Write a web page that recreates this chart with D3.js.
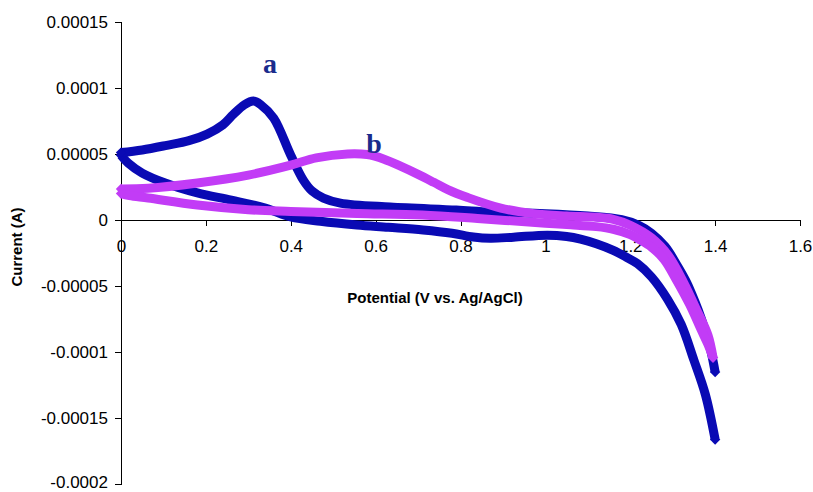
<!DOCTYPE html>
<html>
<head>
<meta charset="utf-8">
<script src="https://cdn.jsdelivr.net/npm/d3@7"></script>
<style>
  body { margin: 0; background: #fff; }
  .axis text { font-family: "Liberation Sans", Arial, sans-serif; font-size: 17px; fill: #000; }
  .axis path, .axis line { stroke: #000; stroke-width: 1px; shape-rendering: crispEdges; }
</style>
</head>
<body>
<div id="chart"></div>
<script>
// tick values
var xTicks = [0, 0.2, 0.4, 0.6, 0.8, 1, 1.2, 1.4, 1.6];
var yTicks = [0.00015, 0.0001, 0.00005, 0, -0.00005, -0.0001, -0.00015, -0.0002];

// curve a - lower branch, 0 -> 1.4 V
var aLowX = [0, 0.017, 0.05, 0.104, 0.18, 0.26, 0.34, 0.40, 0.47, 0.556, 0.63, 0.712, 0.78, 0.83, 0.87, 0.925, 1.005, 1.05, 1.083, 1.12, 1.16, 1.19, 1.217, 1.25, 1.288, 1.32, 1.35, 1.377, 1.40];
var aLowY = [4.9e-5, 4.3e-5, 3.55e-5, 2.8e-5, 2.05e-5, 1.5e-5, 0.9e-5, 0.23e-5, -0.1e-5, -0.38e-5, -0.55e-5, -0.75e-5, -1.0e-5, -1.28e-5, -1.38e-5, -1.3e-5, -1.15e-5, -1.25e-5, -1.45e-5, -1.8e-5, -2.3e-5, -2.8e-5, -3.3e-5, -4.3e-5, -6.0e-5, -7.9e-5, -10.6e-5, -13.2e-5, -16.6e-5];
// curve a - upper branch, 1.4 -> 0 V
var aUpX = [1.40, 1.39, 1.375, 1.36, 1.345, 1.331, 1.31, 1.282, 1.25, 1.22, 1.18, 1.1, 1.0, 0.87, 0.79, 0.634, 0.517, 0.477, 0.45, 0.43, 0.40, 0.36, 0.33, 0.312, 0.29, 0.265, 0.24, 0.203, 0.16, 0.108, 0.05, 0];
var aUpY = [-11.5e-5, -9.9e-5, -8.2e-5, -6.8e-5, -5.6e-5, -4.6e-5, -3.4e-5, -2.0e-5, -1.0e-5, -0.4e-5, 0.02e-5, 0.3e-5, 0.48e-5, 0.6e-5, 0.75e-5, 0.98e-5, 1.28e-5, 1.66e-5, 2.2e-5, 3.0e-5, 4.9e-5, 7.7e-5, 8.7e-5, 9.0e-5, 8.7e-5, 8.0e-5, 7.2e-5, 6.5e-5, 6.0e-5, 5.65e-5, 5.3e-5, 5.1e-5];

// curve b - upper branch, 0 -> 1.4 V
var bFwdX = [0, 0.064, 0.18, 0.3, 0.4, 0.46, 0.534, 0.58, 0.62, 0.66, 0.70, 0.737, 0.77, 0.817, 0.895, 0.973, 1.05, 1.12, 1.16, 1.2, 1.25, 1.29, 1.327, 1.355, 1.383, 1.395];
var bFwdY = [2.35e-5, 2.4e-5, 2.8e-5, 3.4e-5, 4.15e-5, 4.7e-5, 5.0e-5, 4.95e-5, 4.6e-5, 4.05e-5, 3.45e-5, 2.85e-5, 2.3e-5, 1.7e-5, 0.9e-5, 0.48e-5, 0.3e-5, 0.2e-5, 0.05e-5, -0.4e-5, -1.35e-5, -2.7e-5, -4.8e-5, -6.7e-5, -8.7e-5, -10.4e-5];
// curve b - lower branch, 1.4 -> 0 V
var bRevX = [1.395, 1.383, 1.367, 1.34, 1.308, 1.28, 1.25, 1.22, 1.2, 1.16, 1.12, 1.06, 1.0, 0.84, 0.71, 0.556, 0.4, 0.3, 0.18, 0.064, 0.02, 0];
var bRevY = [-10.4e-5, -9.4e-5, -8.3e-5, -6.4e-5, -4.5e-5, -3.0e-5, -2.05e-5, -1.45e-5, -1.1e-5, -0.7e-5, -0.5e-5, -0.36e-5, -0.25e-5, 0.12e-5, 0.38e-5, 0.5e-5, 0.65e-5, 0.78e-5, 1.13e-5, 1.66e-5, 1.85e-5, 2.0e-5];

function zipXY(xs, ys) {
    return xs.map(function (d, i) { return { x: d, y: ys[i] }; });
}

var width = 813;
var height = 492;

var svg = d3.select('#chart').append('svg')
    .attr('width', width)
    .attr('height', height);

var x = d3.scaleLinear().domain([0, 1.6]).range([121, 800]);
var y = d3.scaleLinear().domain([-0.0002, 0.00015]).range([484.4, 21.7]);

// axes
var yFmt = function (d) { return d === 0 ? '0' : d.toFixed(5).replace(/0+$/, ''); };
var yAxis = svg.append('g')
    .attr('class', 'axis')
    .attr('transform', 'translate(' + x(0) + ',0)')
    .call(d3.axisLeft(y).tickValues(yTicks).tickSize(6).tickSizeOuter(0).tickFormat(yFmt));
yAxis.selectAll('text').attr('x', -13);
// bottom label sits at the page edge, lift it a touch
yAxis.selectAll('.tick').filter(function (d) { return d === -0.0002; })
    .select('text').attr('y', -2);

var xAxis = svg.append('g')
    .attr('class', 'axis')
    .attr('transform', 'translate(0,' + y(0) + ')')
    .call(d3.axisBottom(x).tickValues(xTicks).tickSize(6).tickSizeOuter(0)
        .tickFormat(function (d) { return String(+d.toFixed(1)); }));
xAxis.selectAll('text').attr('y', 20);

var line = d3.line()
    .x(function (d) { return x(d.x); })
    .y(function (d) { return y(d.y); })
    .curve(d3.curveCatmullRom.alpha(0.5));

var series = [
    { color: '#0a0ab4', branches: [zipXY(aLowX, aLowY), zipXY(aUpX, aUpY)] },
    { color: '#c23cf6', branches: [zipXY(bFwdX, bFwdY), zipXY(bRevX, bRevY)] }
];

var diamond = d3.symbol().type(d3.symbolSquare).size(54);

series.forEach(function (s) {
    var g = svg.append('g');
    s.branches.forEach(function (pts) {
        g.append('path')
            .datum(pts)
            .attr('fill', 'none')
            .attr('stroke', s.color)
            .attr('stroke-width', 9)
            .attr('stroke-linejoin', 'round')
            .attr('d', line);
        // marker diamonds at the branch ends
        [pts[0], pts[pts.length - 1]].forEach(function (p) {
            g.append('path')
                .attr('d', diamond)
                .attr('fill', s.color)
                .attr('transform', 'translate(' + x(p.x) + ',' + y(p.y) + ') rotate(45)');
        });
    });
});

// curve labels
svg.append('text')
    .attr('x', 270).attr('y', 73)
    .attr('text-anchor', 'middle')
    .style('font-family', '"Liberation Serif", "Times New Roman", serif')
    .style('font-weight', 'bold')
    .style('font-size', '28px')
    .style('fill', '#1a2b8c')
    .text('a');

svg.append('text')
    .attr('x', 374).attr('y', 153)
    .attr('text-anchor', 'middle')
    .style('font-family', '"Liberation Serif", "Times New Roman", serif')
    .style('font-weight', 'bold')
    .style('font-size', '28px')
    .style('fill', '#1a2b8c')
    .text('b');

// axis titles
svg.append('text')
    .attr('x', 435).attr('y', 303)
    .attr('text-anchor', 'middle')
    .style('font-family', '"Liberation Sans", Arial, sans-serif')
    .style('font-weight', 'bold')
    .style('font-size', '15px')
    .text('Potential (V vs. Ag/AgCl)');

svg.append('text')
    .attr('transform', 'translate(22,247) rotate(-90)')
    .attr('text-anchor', 'middle')
    .style('font-family', '"Liberation Sans", Arial, sans-serif')
    .style('font-weight', 'bold')
    .style('font-size', '15px')
    .text('Current (A)');
</script>
</body>
</html>
